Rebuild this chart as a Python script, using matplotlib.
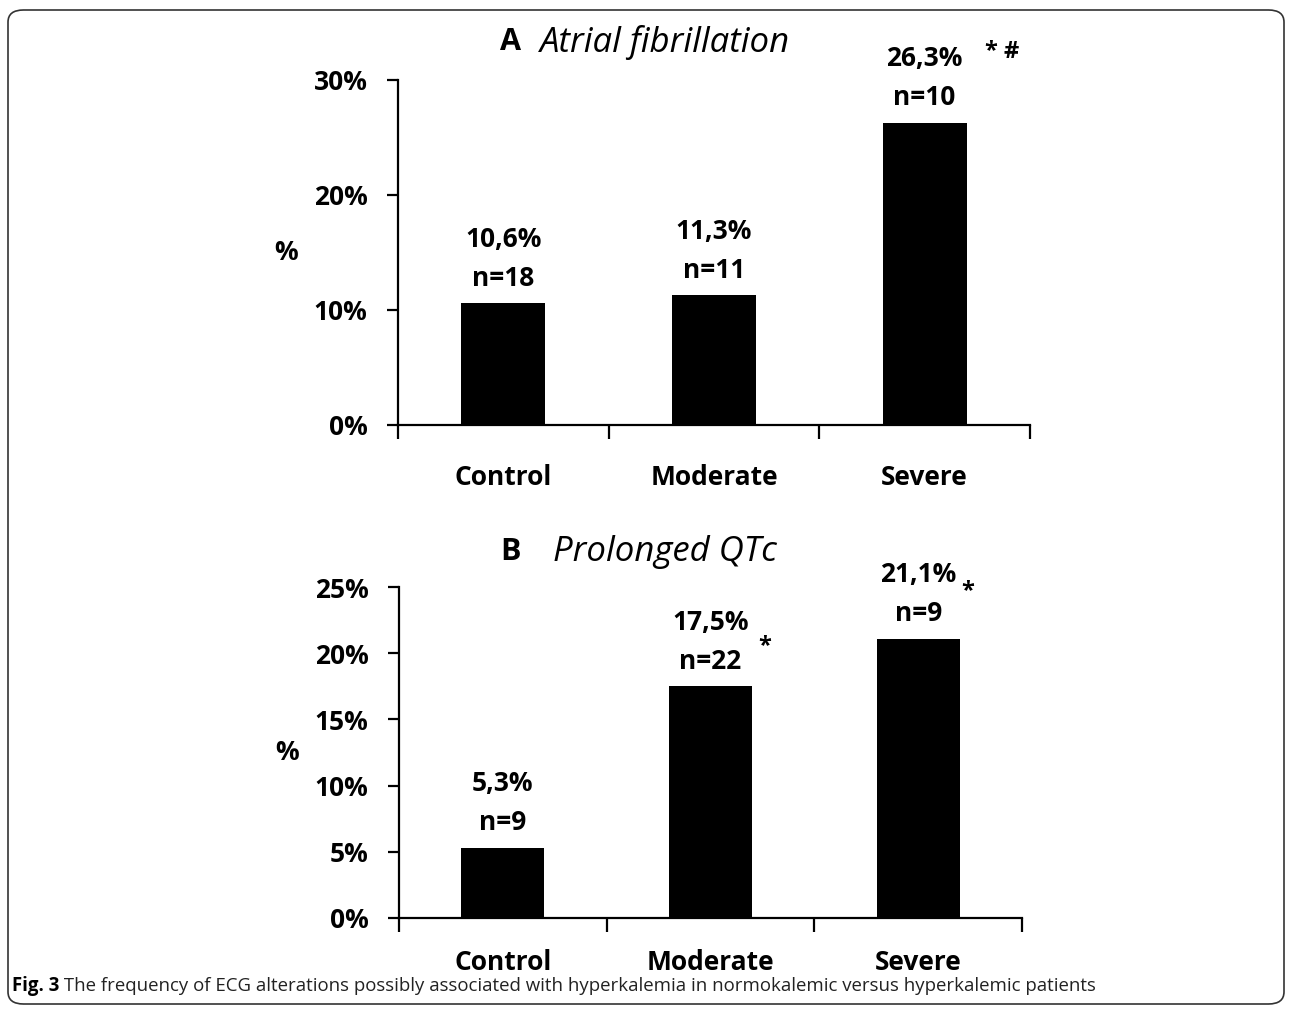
import matplotlib
matplotlib.use("Agg")
import matplotlib.pyplot as plt
from matplotlib.patches import FancyBboxPatch
import numpy as np

plt.rcParams['font.family'] = ['Open Sans', 'DejaVu Sans']

categories = ["Control", "Moderate", "Severe"]
af_values = [10.6, 11.3, 26.3]
af_pct_labels = ["10,6%", "11,3%", "26,3%"]
af_n_labels = ["n=18", "n=11", "n=10"]
af_sig = ["", "", "* #"]
af_yticks = [0, 10, 20, 30]

qt_values = [5.3, 17.5, 21.1]
qt_pct_labels = ["5,3%", "17,5%", "21,1%"]
qt_n_labels = ["n=9", "n=22", "n=9"]
qt_sig = ["", "*", "*"]
qt_yticks = [0, 5, 10, 15, 20, 25]

caption_bold = "Fig. 3"
caption_text = " The frequency of ECG alterations possibly associated with hyperkalemia in normokalemic versus hyperkalemic patients"

W, H = 1292, 1010
fig = plt.figure(figsize=(W / 100, H / 100), dpi=100)

def px_rect(l, r, b, t):
    return [l / W, 1 - b / H, (r - l) / W, (b - t) / H]

FS = 19

def panel(rect, values, pcts, ns, sigs, yticks, sig_offsets, pad_x):
    ax = fig.add_axes(rect)
    x = np.arange(len(categories))
    ax.bar(x, values, width=0.4, color='black')
    ax.set_xlim(-0.5, 2.5)
    ax.set_ylim(yticks[0], yticks[-1])
    for s in ['top', 'right']:
        ax.spines[s].set_visible(False)
    for s in ['left', 'bottom']:
        ax.spines[s].set_linewidth(1.6)
    ax.set_yticks(yticks)
    ax.set_yticklabels([f"{t}%" for t in yticks], fontsize=FS, fontweight='bold')
    ax.tick_params(axis='y', length=8, width=1.6, pad=14)
    ax.set_xticks(x)
    ax.set_xticklabels(categories, fontsize=FS, fontweight='bold')
    ax.tick_params(axis='x', which='major', length=0, pad=pad_x)
    ax.set_xticks([-0.5, 0.5, 1.5, 2.5], minor=True)
    ax.tick_params(axis='x', which='minor', length=10, width=1.6, direction='out')
    ax.set_ylabel('%', rotation=0, fontsize=FS, fontweight='bold', va='center', ha='center')
    ax.yaxis.set_label_coords(-112 / (rect[2] * W), 0.5)
    for xi, v, p, n, sg, so in zip(x, values, pcts, ns, sigs, sig_offsets):
        ax.annotate(n, (xi, v), xytext=(0, 18), textcoords='offset points',
                    ha='center', va='center', fontsize=FS, fontweight='bold')
        ax.annotate(p, (xi, v), xytext=(0, 46), textcoords='offset points',
                    ha='center', va='center', fontsize=FS, fontweight='bold')
        if sg:
            ax.annotate(sg, (xi, v), xytext=so, textcoords='offset points',
                        ha='center', va='center', fontsize=FS - 2, fontweight='bold')
    return ax

axA = panel(px_rect(398, 1030, 425, 80), af_values, af_pct_labels, af_n_labels, af_sig,
            af_yticks, [None, None, (56, 51)], 28)
axB = panel(px_rect(399, 1022, 918, 587), qt_values, qt_pct_labels, qt_n_labels, qt_sig,
            qt_yticks, [None, (39, 29), (36, 34)], 22)

# titles
fig.text(500 / W, 1 - 42 / H, "A", fontsize=22, fontweight='bold', ha='left', va='center')
fig.text(540 / W, 1 - 42 / H, "Atrial fibrillation", fontsize=25, style='italic',
         ha='left', va='center')
fig.text(500 / W, 1 - 552 / H, "B", fontsize=22, fontweight='bold', ha='left', va='center')
fig.text(553 / W, 1 - 552 / H, "Prolonged QTc", fontsize=25, style='italic',
         ha='left', va='center')

# caption
renderer = fig.canvas.get_renderer()
cfs = 13.4
tb = fig.text(12 / W, 1 - 986 / H, caption_bold, fontsize=cfs, fontweight='bold',
              ha='left', va='center')
bb = tb.get_window_extent(renderer)
fig.text(bb.x1 / W, 1 - 986 / H, caption_text, fontsize=cfs, ha='left', va='center',
         color='#222222')

# frame
frame = FancyBboxPatch((8 / W, 6 / H), (W - 16) / W, (H - 16) / H,
                       boxstyle="round,pad=0,rounding_size=0.012",
                       transform=fig.transFigure, fill=False, edgecolor='#333333', lw=1.2)
fig.patches.append(frame)

fig.savefig("out.png", dpi=100)
